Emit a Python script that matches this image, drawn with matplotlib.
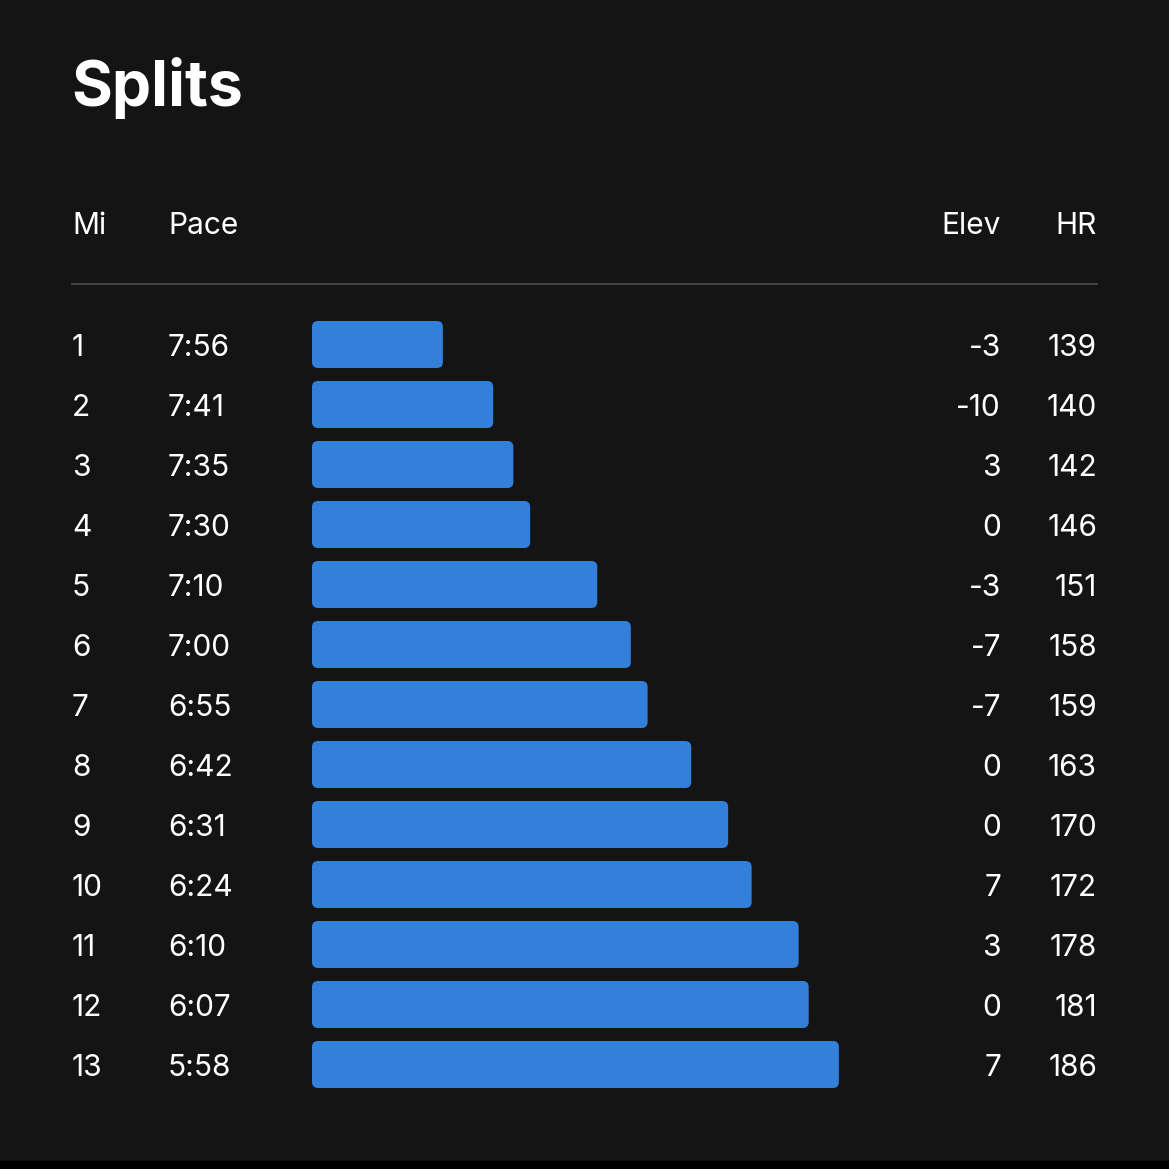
import matplotlib
matplotlib.use('Agg')
import matplotlib.pyplot as plt
from matplotlib.patches import FancyBboxPatch, Rectangle

plt.rcParams['font.family'] = ['Inter', 'DejaVu Sans']

# ── Data ──────────────────────────────────────────────────────────
miles = [1, 2, 3, 4, 5, 6, 7, 8, 9, 10, 11, 12, 13]
paces = ['7:56', '7:41', '7:35', '7:30', '7:10', '7:00', '6:55',
         '6:42', '6:31', '6:24', '6:10', '6:07', '5:58']
elev = [-3, -10, 3, 0, -3, -7, -7, 0, 0, 7, 3, 0, 7]
hr = [139, 140, 142, 146, 151, 158, 159, 163, 170, 172, 178, 181, 186]

pace_sec = [int(p.split(':')[0]) * 60 + int(p.split(':')[1]) for p in paces]
REF_SEC = 515                        # bar length = seconds faster than 8:35
bar_val = [REF_SEC - s for s in pace_sec]

# ── Style ─────────────────────────────────────────────────────────
BG = '#141414'
BAR = '#3380DB'
FG = '#FFFFFF'
W = H = 1169
PX_PER_SEC = 3.356
ROW_H = 60
FS = 21.5

fig = plt.figure(figsize=(W / 100, H / 100), dpi=100, facecolor=BG)

# overlay axes in pixel coordinates for text / rules
ax = fig.add_axes([0, 0, 1, 1])
ax.set_xlim(0, W)
ax.set_ylim(H, 0)
ax.axis('off')
ax.add_patch(Rectangle((0, 1161), W, 10, color='#000000', zorder=0))

ax.text(71, 106, 'Splits', color=FG, fontsize=45, fontweight='bold',
        ha='left', va='baseline')

hdr_y = 234
ax.text(72, hdr_y, 'Mi', color=FG, fontsize=FS, ha='left', va='baseline')
ax.text(168, hdr_y, 'Pace', color=FG, fontsize=FS, ha='left', va='baseline')
ax.text(1001, hdr_y, 'Elev', color=FG, fontsize=FS, ha='right', va='baseline')
ax.text(1097, hdr_y, 'HR', color=FG, fontsize=FS, ha='right', va='baseline')
ax.plot([72, 1097], [283.5, 283.5], color='#474747', lw=1.3)

for i, m in enumerate(miles):
    yb = 356 + ROW_H * i
    ax.text(72, yb, str(m), color=FG, fontsize=FS, ha='left', va='baseline')
    ax.text(168, yb, paces[i], color=FG, fontsize=FS, ha='left', va='baseline')
    ax.text(1001, yb, str(elev[i]), color=FG, fontsize=FS, ha='right', va='baseline')
    ax.text(1097, yb, str(hr[i]), color=FG, fontsize=FS, ha='right', va='baseline')

# ── Bars axes (x in seconds, y in rows) ───────────────────────────
left_px, right_px = 312, 1097
top_px = 314.5
bot_px = top_px + ROW_H * len(miles)
bax = fig.add_axes([left_px / W, 1 - bot_px / H,
                    (right_px - left_px) / W, (bot_px - top_px) / H])
bax.set_xlim(0, (right_px - left_px) / PX_PER_SEC)
bax.set_ylim(len(miles) - 0.5, -0.5)
bax.axis('off')
bax.patch.set_alpha(0)

bar_h = 47 / ROW_H
rad = 6 / PX_PER_SEC
for i, v in enumerate(bar_val):
    bax.add_patch(FancyBboxPatch((0, i - bar_h / 2), v, bar_h,
                                 boxstyle=f'round,pad=0,rounding_size={rad}',
                                 mutation_aspect=PX_PER_SEC / ROW_H,
                                 facecolor=BAR, edgecolor='none'))

fig.savefig('out.png', dpi=100, facecolor=BG)
